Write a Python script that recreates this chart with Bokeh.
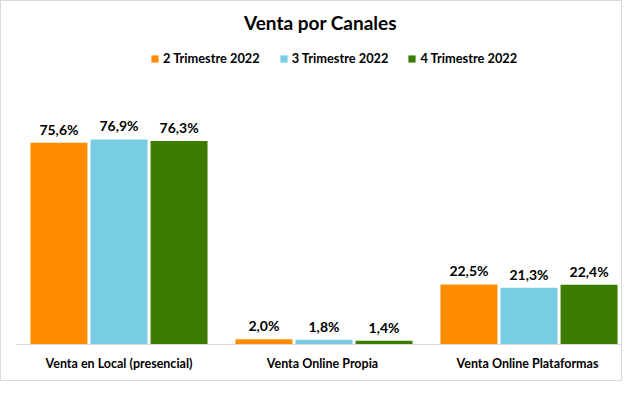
from bokeh.plotting import figure
from bokeh.models import ColumnDataSource, Range1d, Label, Legend, LegendItem, FixedTicker
from bokeh.core.properties import value
from bokeh.embed import file_html
from bokeh.resources import INLINE

categories = ["Venta en Local (presencial)", "Venta  Online Propia", "Venta  Online Plataformas"]
series = ["2 Trimestre 2022", "3 Trimestre 2022", "4 Trimestre 2022"]
q2 = [75.6, 2.0, 22.5]
q3 = [76.9, 1.8, 21.3]
q4 = [76.3, 1.4, 22.4]
colors = ["#FF8C00", "#78CDE5", "#3C7C00"]

def fmt(v):
    return ("%.1f%%" % v).replace(".", ",")

pos = [i + 0.5 for i in range(len(categories))]
offs = [-0.293, 0.0, 0.293]
data = dict(pos=pos)
for k, vals in zip(["q2", "q3", "q4"], [q2, q3, q4]):
    data[k] = vals
    data["l" + k] = [fmt(v) for v in vals]
for k, off in zip(["q2", "q3", "q4"], offs):
    data["x" + k] = [x + off for x in pos]
src = ColumnDataSource(data)

FONT = "Lato"

p = figure(x_range=Range1d(0, 2.961), y_range=Range1d(0, 128.6),
           width=622, height=381, output_backend="svg", toolbar_location=None,
           min_border_left=15, min_border_right=0, min_border_top=0, min_border_bottom=38,
           styles={"border": "1px solid #d9d9d9"})

p.outline_line_color = None
p.grid.grid_line_color = None
p.yaxis.visible = False

renderers = []
for key, col in zip(["q2", "q3", "q4"], colors):
    r = p.vbar(x="x" + key, top=key, bottom=0, width=0.278,
               source=src, fill_color=col, line_color=None)
    renderers.append(r)
    p.text(x="x" + key, y=key, text="l" + key, source=src,
           text_align="center", text_baseline="bottom", y_offset=-5,
           text_font=value(FONT), text_font_style="bold", text_font_size="14px",
           text_color="#000000")

xa = p.xaxis[0]
xa.ticker = FixedTicker(ticks=pos)
xa.major_label_overrides = {p_: c for p_, c in zip(pos, categories)}
xa.axis_line_color = "#d9d9d9"
xa.axis_line_width = 1
xa.major_tick_line_color = None
xa.minor_tick_line_color = None
xa.major_label_text_font = FONT
xa.major_label_text_font_style = "bold"
xa.major_label_text_font_size = "12.5px"
xa.major_label_text_color = "#000000"
xa.major_label_standoff = 5

title = Label(x=1.483, y=120.7, text="Venta por Canales", text_align="center",
              text_baseline="middle", text_font=FONT, text_font_style="bold",
              text_font_size="19px", text_color="#000000")
p.add_layout(title)

legend = Legend(items=[LegendItem(label=s, renderers=[r]) for s, r in zip(series, renderers)],
                orientation="horizontal", location=(134, 278),
                glyph_width=9, glyph_height=9, label_standoff=4, spacing=19,
                padding=0, margin=0, border_line_color=None, background_fill_alpha=0,
                label_text_font=FONT, label_text_font_style="bold",
                label_text_font_size="12.8px", label_text_color="#000000")
p.add_layout(legend)

open("out.html", "w").write(file_html(p, INLINE))
